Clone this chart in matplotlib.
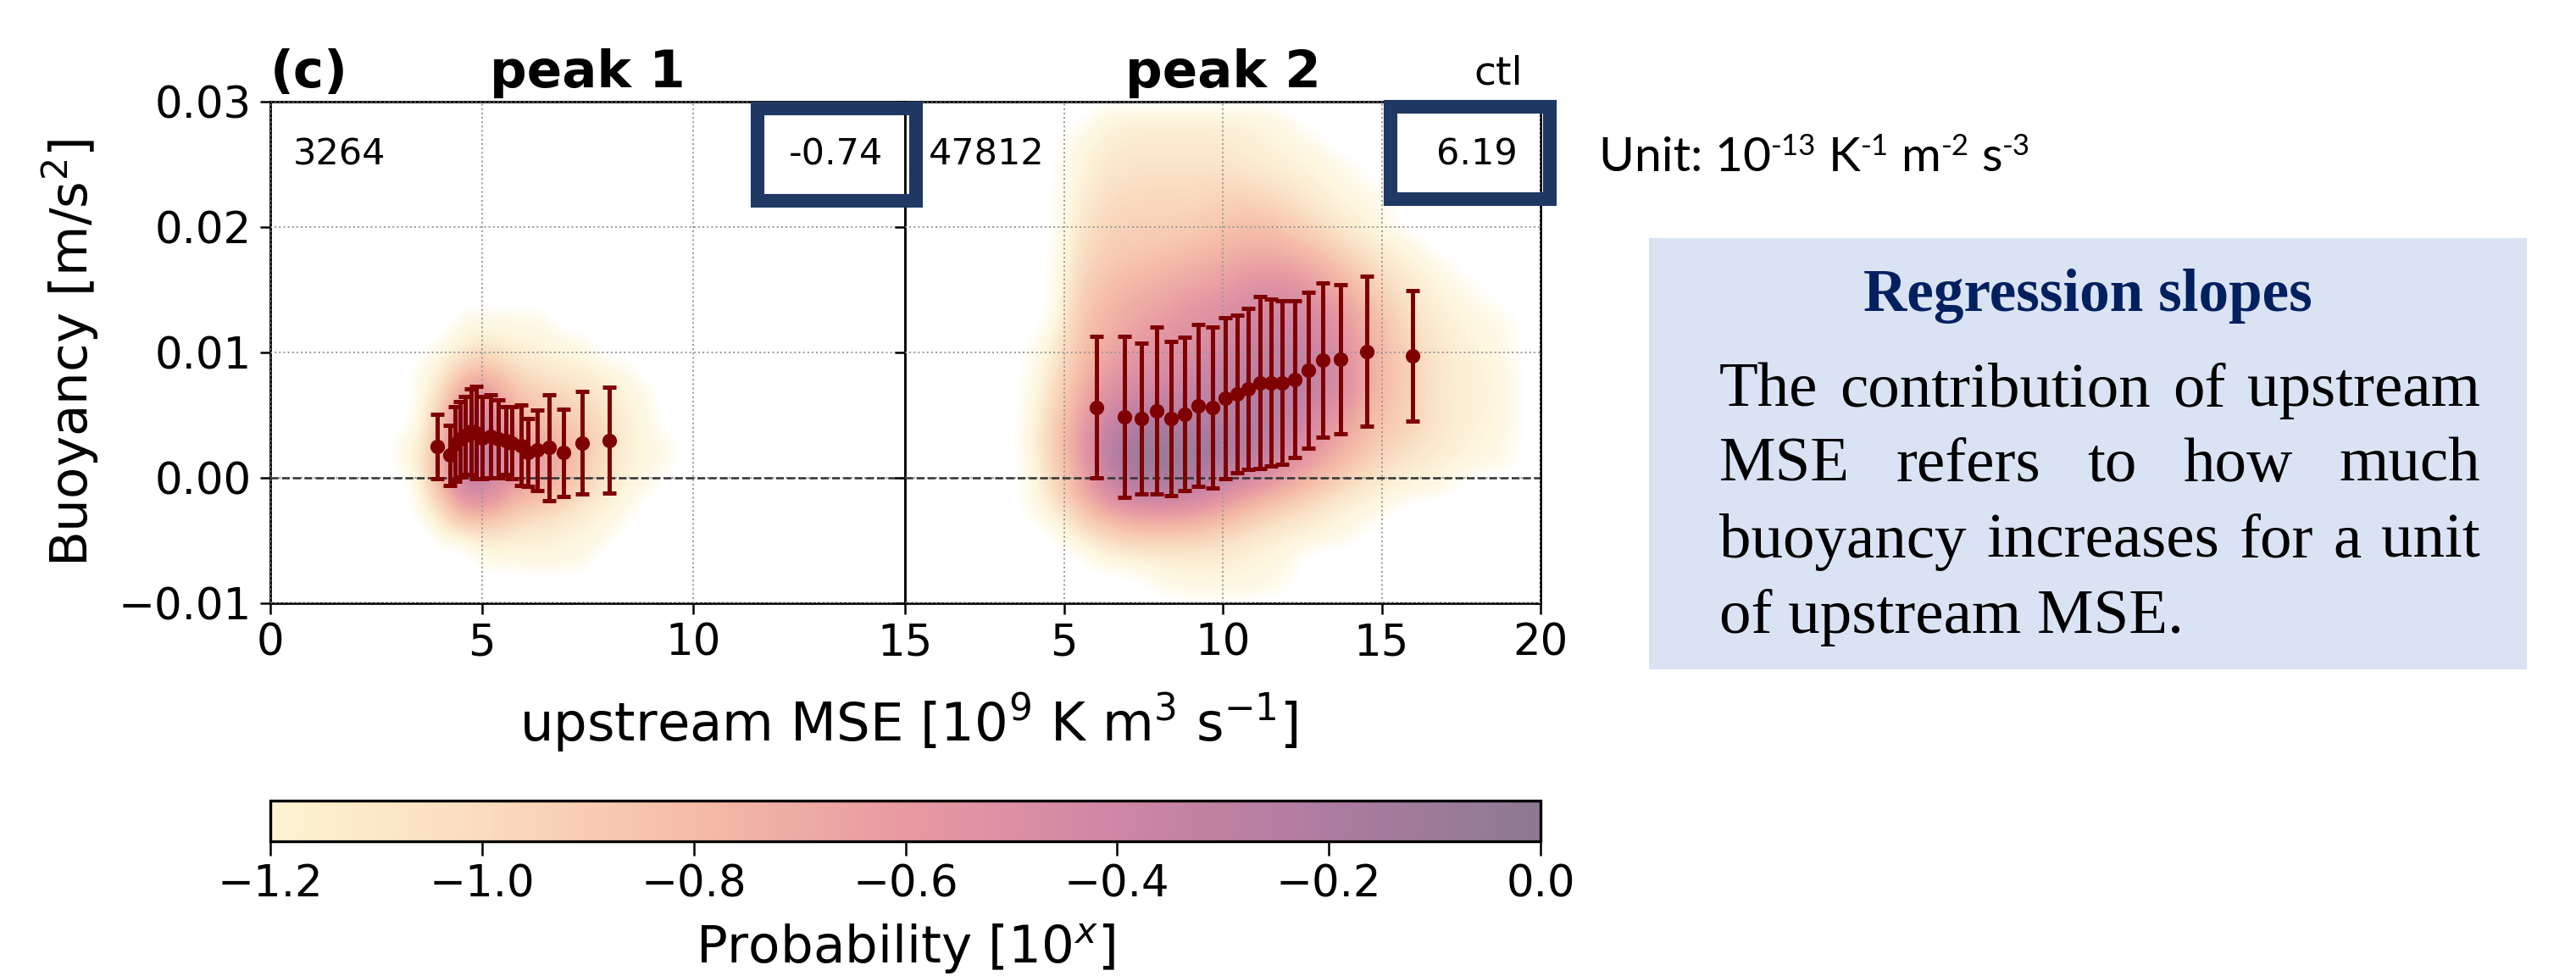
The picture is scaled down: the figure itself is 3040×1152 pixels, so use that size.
import numpy as np
import matplotlib
matplotlib.use("Agg")
import matplotlib.pyplot as plt
from matplotlib.colors import LinearSegmentedColormap, Normalize
from matplotlib.patches import Rectangle
from matplotlib.cm import ScalarMappable

# ---------------- data ----------------
E = -1.8  # log10 probability for empty bins (no samples)

# peak 1: binned means and std of buoyancy
peak1_x = [3.95, 4.24, 4.37, 4.49, 4.61, 4.75, 4.86, 5.01, 5.21, 5.39, 5.56, 5.71, 5.93,
           6.08, 6.31, 6.58, 6.92, 7.37, 8.01]
peak1_mean = [0.0025, 0.0018, 0.0027, 0.0031, 0.0034, 0.0037, 0.0036, 0.0032, 0.0033, 0.0031,
              0.0030, 0.0028, 0.0026, 0.0020, 0.0022, 0.0024, 0.0020, 0.0028, 0.0030]
peak1_std = [0.0026, 0.0024, 0.0030, 0.0030, 0.0031, 0.0034, 0.0037, 0.0033, 0.0033, 0.0031,
             0.0027, 0.0029, 0.0032, 0.0027, 0.0032, 0.0042, 0.0035, 0.0041, 0.0042]

# peak 2
peak2_x = [6.03, 6.90, 7.45, 7.91, 8.36, 8.81, 9.23, 9.68, 10.07, 10.44, 10.80, 11.16, 11.52,
           11.87, 12.27, 12.69, 13.14, 13.71, 14.52, 15.97]
peak2_mean = [0.00563, 0.00487, 0.00472, 0.00536, 0.00475, 0.00508, 0.00575, 0.00560, 0.00635,
              0.00669, 0.00708, 0.00760, 0.00760, 0.00760, 0.00787, 0.00856, 0.00940, 0.00947,
              0.01010, 0.00970]
peak2_std = [0.00566, 0.00642, 0.00602, 0.00664, 0.00615, 0.00612, 0.00645, 0.00640, 0.00645,
             0.00626, 0.00642, 0.00686, 0.00665, 0.00650, 0.00623, 0.00621, 0.00615, 0.00593,
             0.00600, 0.00520]

# joint probability (log10) on coarse bins
peak1_bin_x = [3.0, 3.5, 4.0, 4.5, 5.0, 5.5, 6.0, 6.5, 7.0, 7.5, 8.0, 8.5, 9.0, 9.5]
peak1_bin_y = [0.013, 0.011, 0.009, 0.007, 0.005, 0.003, 0.001, -0.001, -0.003, -0.005, -0.007]
peak1_logp = [
    [E, E, E, -1.3, -1.25, -1.3, -1.3, -1.3, E, E, E, E, E, E],
    [E, E, -1.3, -1.2, -1.1, -1.15, -1.2, -1.2, -1.25, -1.3, E, E, E, E],
    [E, -1.3, -1.15, -0.95, -0.85, -0.95, -1.05, -1.1, -1.15, -1.15, -1.25, -1.3, E, E],
    [E, -1.25, -1.05, -0.7, -0.55, -0.75, -0.9, -0.95, -1.0, -1.05, -1.1, -1.2, -1.3, E],
    [E, -1.2, -0.9, -0.5, -0.4, -0.6, -0.8, -0.85, -0.9, -0.95, -1.05, -1.15, -1.25, E],
    [-1.3, -1.15, -0.8, -0.35, -0.3, -0.45, -0.65, -0.7, -0.8, -0.9, -1.0, -1.15, -1.25, -1.3],
    [-1.3, -1.1, -0.75, -0.3, -0.3, -0.45, -0.6, -0.6, -0.75, -0.9, -1.05, -1.15, -1.25, -1.3],
    [E, -1.15, -0.85, -0.45, -0.35, -0.55, -0.7, -0.75, -0.85, -1.0, -1.1, -1.2, -1.3, E],
    [E, -1.25, -1.05, -0.8, -0.75, -0.85, -0.95, -1.0, -1.05, -1.15, -1.2, -1.3, E, E],
    [E, E, -1.25, -1.15, -1.1, -1.1, -1.15, -1.15, -1.2, -1.2, -1.25, E, E, E],
    [E, E, E, E, -1.3, -1.3, -1.25, -1.2, -1.25, -1.3, E, E, E, E],
]

peak2_bin_x = [4, 5, 6, 7, 8, 9, 10, 11, 12, 13, 14, 15, 16, 17, 18, 19]
peak2_bin_y = [0.029, 0.027, 0.025, 0.023, 0.021, 0.019, 0.017, 0.015, 0.013, 0.011, 0.009,
               0.007, 0.005, 0.003, 0.001, -0.001, -0.003, -0.005, -0.007, -0.009]
peak2_logp = [
    [E, E, -1.25, -1.15, -1.15, -1.15, -1.15, -1.2, -1.3, E, E, E, E, E, E, E],
    [E, -1.35, -1.15, -1.1, -1.1, -1.1, -1.1, -1.15, -1.2, -1.3, E, E, E, E, E, E],
    [E, -1.3, -1.1, -1.05, -1.05, -1.05, -1.05, -1.1, -1.15, -1.2, -1.3, E, E, E, E, E],
    [E, -1.25, -1.05, -1.0, -1.0, -1.0, -0.95, -1.0, -1.05, -1.15, -1.25, -1.3, E, E, E, E],
    [E, -1.2, -1.0, -0.95, -0.95, -0.95, -0.9, -0.85, -0.95, -1.05, -1.15, -1.25, E, E, E, E],
    [E, -1.15, -0.95, -0.9, -0.9, -0.85, -0.8, -0.75, -0.8, -0.9, -1.05, -1.15, -1.25, E, E, E],
    [E, -1.1, -0.9, -0.85, -0.8, -0.75, -0.7, -0.65, -0.65, -0.75, -0.9, -1.05, -1.15, -1.25, E, E],
    [E, -1.05, -0.85, -0.75, -0.7, -0.65, -0.6, -0.5, -0.5, -0.6, -0.75, -0.95, -1.1, -1.2, -1.3, E],
    [E, -1.0, -0.8, -0.7, -0.65, -0.55, -0.5, -0.4, -0.4, -0.45, -0.65, -0.85, -1.05, -1.15, -1.25, -1.3],
    [-1.35, -1.0, -0.75, -0.65, -0.55, -0.5, -0.45, -0.35, -0.35, -0.4, -0.6, -0.8, -1.0, -1.1, -1.2, -1.3],
    [-1.3, -0.95, -0.7, -0.55, -0.5, -0.45, -0.35, -0.3, -0.3, -0.35, -0.55, -0.8, -0.95, -1.1, -1.15, -1.25],
    [-1.2, -0.9, -0.6, -0.45, -0.4, -0.35, -0.3, -0.25, -0.25, -0.35, -0.55, -0.8, -0.95, -1.1, -1.15, -1.2],
    [-1.15, -0.85, -0.5, -0.3, -0.25, -0.25, -0.25, -0.25, -0.3, -0.45, -0.65, -0.85, -0.95, -1.1, -1.15, -1.2],
    [-1.1, -0.8, -0.4, -0.15, -0.1, -0.15, -0.15, -0.2, -0.35, -0.55, -0.75, -0.9, -1.0, -1.1, -1.2, -1.25],
    [-1.15, -0.85, -0.45, -0.1, -0.05, -0.1, -0.2, -0.35, -0.5, -0.7, -0.85, -1.0, -1.1, -1.15, -1.2, -1.3],
    [-1.2, -0.9, -0.55, -0.3, -0.25, -0.3, -0.45, -0.6, -0.75, -0.9, -1.05, -1.15, -1.2, -1.25, E, E],
    [-1.3, -1.05, -0.8, -0.65, -0.6, -0.65, -0.75, -0.9, -1.0, -1.1, -1.2, -1.25, E, E, E, E],
    [E, -1.2, -1.05, -0.95, -0.95, -0.95, -1.0, -1.1, -1.15, -1.2, -1.3, E, E, E, E, E],
    [E, E, -1.25, -1.2, -1.15, -1.15, -1.15, -1.2, -1.25, E, E, E, E, E, E, E],
    [E, E, E, E, -1.3, -1.25, -1.2, -1.25, -1.35, E, E, E, E, E, E, E],
]

sample_counts = ["3264", "47812"]
slopes = ["-0.74", "6.19"]
panel_titles = ["peak 1", "peak 2"]
cbar_ticks = [-1.2, -1.0, -0.8, -0.6, -0.4, -0.2, 0.0]
body_lines = ["The contribution of upstream", "MSE refers to how much",
              "buoyancy increases for a unit", "of upstream MSE."]

# ---------------- styling ----------------
W, H, DPI = 3040, 1152, 200
fig = plt.figure(figsize=(W / DPI, H / DPI), dpi=DPI)
fig.patch.set_facecolor("white")

def fx(px):
    return px / W

def fy(py):
    return 1 - py / H

cb_colors = [(253, 244, 210), (250, 220, 190), (245, 188, 167), (231, 154, 162),
             (207, 134, 164), (173, 124, 160), (140, 122, 145)]
cb_colors = [tuple(c / 255 for c in col) for col in cb_colors]
cmap_cb = LinearSegmentedColormap.from_list("prob", cb_colors)

# image colormap: sparse outer bins fade out (alpha ramp below ~ -1.0)
lo = -1.5
alphas = [0.72, 0.95, 1.0, 1.0, 1.0, 1.0, 1.0]
img_nodes = [(0.0, cb_colors[0] + (0.0,))]
for tv, c, a in zip(cbar_ticks, cb_colors, alphas):
    pos = min(1.0, max(0.0, round((tv - lo) / (0 - lo), 6)))
    img_nodes.append((pos, c + (a,)))
img_nodes[-1] = (1.0, img_nodes[-1][1])
cmap_img = LinearSegmentedColormap.from_list("prob_img", img_nodes).with_extremes(under=(1, 1, 1, 0))
norm_img = Normalize(lo, 0)

ax1 = fig.add_axes([fx(319), fy(712), fx(1068 - 319), (712 - 120) / H])
ax2 = fig.add_axes([fx(1068), fy(712), fx(1818 - 1068), (712 - 120) / H], sharey=ax1)

err_color = "#7f0000"
for ax, bx, by, lp, xs, ms, ss in [
        (ax1, peak1_bin_x, peak1_bin_y, peak1_logp, peak1_x, peak1_mean, peak1_std),
        (ax2, peak2_bin_x, peak2_bin_y, peak2_logp, peak2_x, peak2_mean, peak2_std)]:
    dx = bx[1] - bx[0]
    dy = by[0] - by[1]
    grid = np.pad(np.array(lp, dtype=float), 1, constant_values=E)
    ext = (bx[0] - 1.5 * dx, bx[-1] + 1.5 * dx, by[-1] - 1.5 * dy, by[0] + 1.5 * dy)
    ax.imshow(grid, extent=ext, origin="upper", aspect="auto", cmap=cmap_img,
              norm=norm_img, interpolation="bicubic", interpolation_stage="data", zorder=0)
    ax.axhline(0, color="#333333", ls="--", lw=0.9, zorder=2.6)
    ax.errorbar(xs, ms, yerr=ss, fmt="o", color=err_color, ecolor=err_color,
                markersize=5.2, elinewidth=1.8, capsize=3.0, capthick=1.8, zorder=3)
    ax.grid(True, ls=":", color="#999999", lw=0.7)
    ax.set_axisbelow(False)
    ax.tick_params(labelsize=18.5, length=4.5, width=0.9)
    for sp in ax.spines.values():
        sp.set_linewidth(1.0)

ax1.set_xlim(0, 15)
ax1.set_xticks([0, 5, 10, 15])
ax2.set_xlim(0, 20)
ax2.set_xticks([5, 10, 15, 20])
ax1.set_ylim(-0.01, 0.03)
ax1.set_yticks([-0.01, 0.0, 0.01, 0.02, 0.03])
ax2.tick_params(labelleft=False)

ax1.set_title(panel_titles[0], fontsize=22, fontweight="bold")
ax1.set_title("(c)", loc="left", fontsize=22, fontweight="bold")
ax2.set_title(panel_titles[1], fontsize=22, fontweight="bold")
fig.text(fx(1797), fy(100), "ctl", ha="right", va="baseline", fontsize=17)

ax1.text(0.036, 0.894, sample_counts[0], transform=ax1.transAxes, fontsize=15.5,
         ha="left", va="center")
ax2.text(0.037, 0.894, sample_counts[1], transform=ax2.transAxes, fontsize=15.5,
         ha="left", va="center")
ax1.text(0.965, 0.894, slopes[0], transform=ax1.transAxes, fontsize=15.5,
         ha="right", va="center")
ax2.text(0.964, 0.894, slopes[1], transform=ax2.transAxes, fontsize=15.5,
         ha="right", va="center")

fig.text(fx(83), fy(416), "Buoyancy [m/s$^2$]", rotation=90, ha="center", va="center",
         fontsize=22)
fig.text(fx(1072), fy(853), "upstream MSE [10$^9$ K m$^3$ s$^{-1}$]", ha="center",
         va="center", fontsize=22.5)

# colorbar
cax = fig.add_axes([fx(319), fy(993), fx(1818 - 319), 48 / H])
cb = fig.colorbar(ScalarMappable(norm=Normalize(-1.2, 0), cmap=cmap_cb), cax=cax,
                  orientation="horizontal", ticks=cbar_ticks)
cb.ax.tick_params(labelsize=18.5, length=6, width=0.9)
cb.outline.set_linewidth(1.2)
cb.set_label("Probability [10$^x$]", fontsize=22, labelpad=7)

# highlight boxes around slopes
navy = "#1f3864"
for (x0, y0, x1, y1) in [(894, 128, 1081, 237), (1641, 126, 1829, 235)]:
    fig.add_artist(Rectangle((fx(x0), fy(y1)), fx(x1 - x0), (y1 - y0) / H, fill=False,
                             ec=navy, lw=5.8, joinstyle="miter", transform=fig.transFigure,
                             zorder=10))

renderer = fig.canvas.get_renderer()

def tw(s, **kw):
    t = fig.text(0, 0, s, **kw)
    w = t.get_window_extent(renderer).width
    t.remove()
    return w

# unit text with superscripts
unit_font = dict(family=["Lato", "DejaVu Sans"], fontsize=20.5)
sup_font = dict(family=["Lato", "DejaVu Sans"], fontsize=12.5)
space_w = tw("a a", **unit_font) - tw("aa", **unit_font)
pieces = [("Unit: 10", False), ("-13", True), ("K", False), ("-1", True),
          ("m", False), ("-2", True), ("s", False), ("-3", True)]
xcur = 1887.0
base = 202
for i, (s, sup) in enumerate(pieces):
    if not sup and i > 0:
        xcur += space_w
    kw = sup_font if sup else unit_font
    yb = base - 19 if sup else base
    fig.text(fx(xcur), fy(yb), s, ha="left", va="baseline", **kw)
    xcur += tw(s, **kw)

# regression slopes box
fig.add_artist(Rectangle((fx(1946), fy(790)), fx(2982 - 1946), (790 - 281) / H,
                         fc="#dae3f3", ec="none", transform=fig.transFigure, zorder=1))
fig.text(fx(2464), fy(367), "Regression slopes", ha="center", va="baseline",
         fontsize=25.6, fontweight="bold", family="Liberation Serif", color="#002060",
         zorder=2)
body_font = dict(family="Liberation Serif", fontsize=27, color="black")
left, right = 2029, 2927
baselines = [479, 568, 658, 747]
for li, (line, yb) in enumerate(zip(body_lines, baselines)):
    words = line.split(" ")
    if li < len(body_lines) - 1:
        widths = [tw(w_, **body_font) for w_ in words]
        gap = (right - left - sum(widths)) / (len(words) - 1)
        xcur = left
        for w_, wd in zip(words, widths):
            fig.text(fx(xcur), fy(yb), w_, ha="left", va="baseline", zorder=2, **body_font)
            xcur += wd + gap
    else:
        fig.text(fx(left), fy(yb), line, ha="left", va="baseline", zorder=2, **body_font)

fig.savefig("out.png", dpi=DPI, facecolor="white")
